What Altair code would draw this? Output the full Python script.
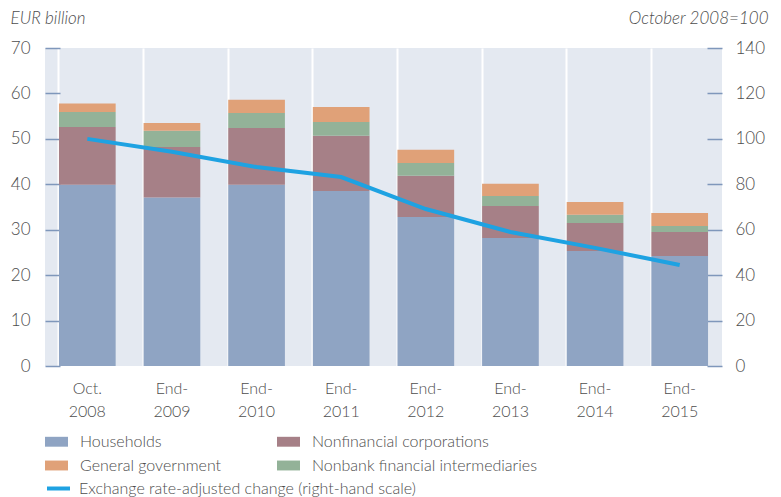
import altair as alt
import pandas as pd

categories = ["Oct.|2008", "End-|2009", "End-|2010", "End-|2011",
              "End-|2012", "End-|2013", "End-|2014", "End-|2015"]
households = [39.9, 37.1, 39.9, 38.5, 32.8, 28.2, 25.3, 24.2]
nonfinancial = [12.7, 11.1, 12.5, 12.2, 9.1, 7.0, 6.2, 5.3]
nonbank = [3.3, 3.6, 3.3, 3.0, 2.8, 2.2, 1.8, 1.3]
government = [1.9, 1.7, 2.9, 3.3, 2.9, 2.7, 2.8, 2.9]
index_change = [100, 94.3, 87.6, 83.2, 69.1, 59.0, 52.0, 44.5]

series_names = ["Households", "Nonfinancial corporations",
                "Nonbank financial intermediaries", "General government"]
series_values = [households, nonfinancial, nonbank, government]
legend_order = ["Households", "General government",
                "Nonfinancial corporations", "Nonbank financial intermediaries"]
colors = {"Households": "#8fa4c3", "Nonfinancial corporations": "#a68087",
          "General government": "#e0a178", "Nonbank financial intermediaries": "#93b298"}
line_name = "Exchange rate-adjusted change (right-hand scale)"

rows = []
for si, (name, vals) in enumerate(zip(series_names, series_values)):
    for c, v in zip(categories, vals):
        rows.append({"cat": c, "series": name, "value": v, "ord": si})
bars_df = pd.DataFrame(rows)
line_df = pd.DataFrame({"cat": categories, "idx": index_change, "s": line_name})

FONT = "Lato"
TXT = "#4d4d4d"
TICK = "#7f97bb"

xenc = alt.X("cat:N", sort=categories, title=None,
             scale=alt.Scale(paddingInner=0.33, paddingOuter=0.165),
             axis=alt.Axis(labelExpr="split(datum.label, '|')", labelAngle=0,
                           ticks=False, domain=False, grid=True, gridColor="white",
                           gridWidth=2, bandPosition=0, labelPadding=14,
                           labelLineHeight=23, labelFontSize=16, labelColor=TXT,
                           labelFont=FONT, labelFontWeight=300))

bars = alt.Chart(bars_df).mark_bar().encode(
    x=xenc,
    y=alt.Y("sum(value):Q", scale=alt.Scale(domain=[0, 70]),
            axis=alt.Axis(values=list(range(0, 71, 10)), orient="left", offset=-15,
                          tickSize=15, tickColor=TICK, tickWidth=1.5, domain=False,
                          grid=False, labelPadding=15, labelFontSize=17,
                          labelColor=TXT, labelFont=FONT, labelFontWeight=300,
                          title="EUR billion", titleAngle=0, titleAlign="left",
                          titleBaseline="alphabetic", titleX=-50, titleY=-25,
                          titleFont=FONT, titleFontStyle="italic",
                          titleFontWeight=300, titleFontSize=17, titleColor=TXT)),
    fill=alt.Fill("series:N", scale=alt.Scale(domain=legend_order,
                                              range=[colors[k] for k in legend_order]),
                  legend=alt.Legend(orient="none", legendX=0, legendY=382, columns=2,
                                    title=None, symbolType="M-1,-0.43H1V0.43H-1Z",
                                    symbolSize=529, labelOffset=12, columnPadding=55,
                                    rowPadding=4, labelFontSize=16, labelColor=TXT,
                                    labelFont=FONT, labelFontWeight=300,
                                    symbolStrokeWidth=0, padding=0, labelLimit=400)),
    order=alt.Order("ord:Q", sort="ascending"),
)

line = alt.Chart(line_df).mark_line(strokeWidth=4).encode(
    x=xenc,
    y=alt.Y("idx:Q", scale=alt.Scale(domain=[0, 140]),
            axis=alt.Axis(values=list(range(0, 141, 20)), orient="right", offset=-15,
                          tickSize=15, tickColor=TICK, tickWidth=1.5, domain=False,
                          grid=False, labelPadding=13, labelFontSize=17,
                          labelColor=TXT, labelFont=FONT, labelFontWeight=300,
                          title="October 2008=100", titleAngle=0, titleAlign="right",
                          titleBaseline="alphabetic", titleX=61, titleY=-25,
                          titleFont=FONT, titleFontStyle="italic",
                          titleFontWeight=300, titleFontSize=17, titleColor=TXT)),
    stroke=alt.Stroke("s:N", scale=alt.Scale(domain=[line_name], range=["#1ea2e2"]),
                      legend=alt.Legend(orient="none", legendX=0, legendY=427,
                                        title=None, symbolType="stroke",
                                        symbolSize=529, symbolStrokeWidth=4,
                                        labelOffset=7, labelFontSize=16,
                                        labelColor=TXT, labelFont=FONT,
                                        labelFontWeight=300, padding=0,
                                        labelLimit=500)),
)

chart = alt.layer(bars, line).resolve_scale(y="independent").properties(
    width=677, height=318,
    autosize=alt.AutoSizeParams(type="none"),
    padding={"left": 37, "top": 40, "right": 51, "bottom": 131},
).configure_view(fill="#e4e9f1", stroke=None)

chart.save("out.html", embed_options={"renderer": "svg", "actions": False})
